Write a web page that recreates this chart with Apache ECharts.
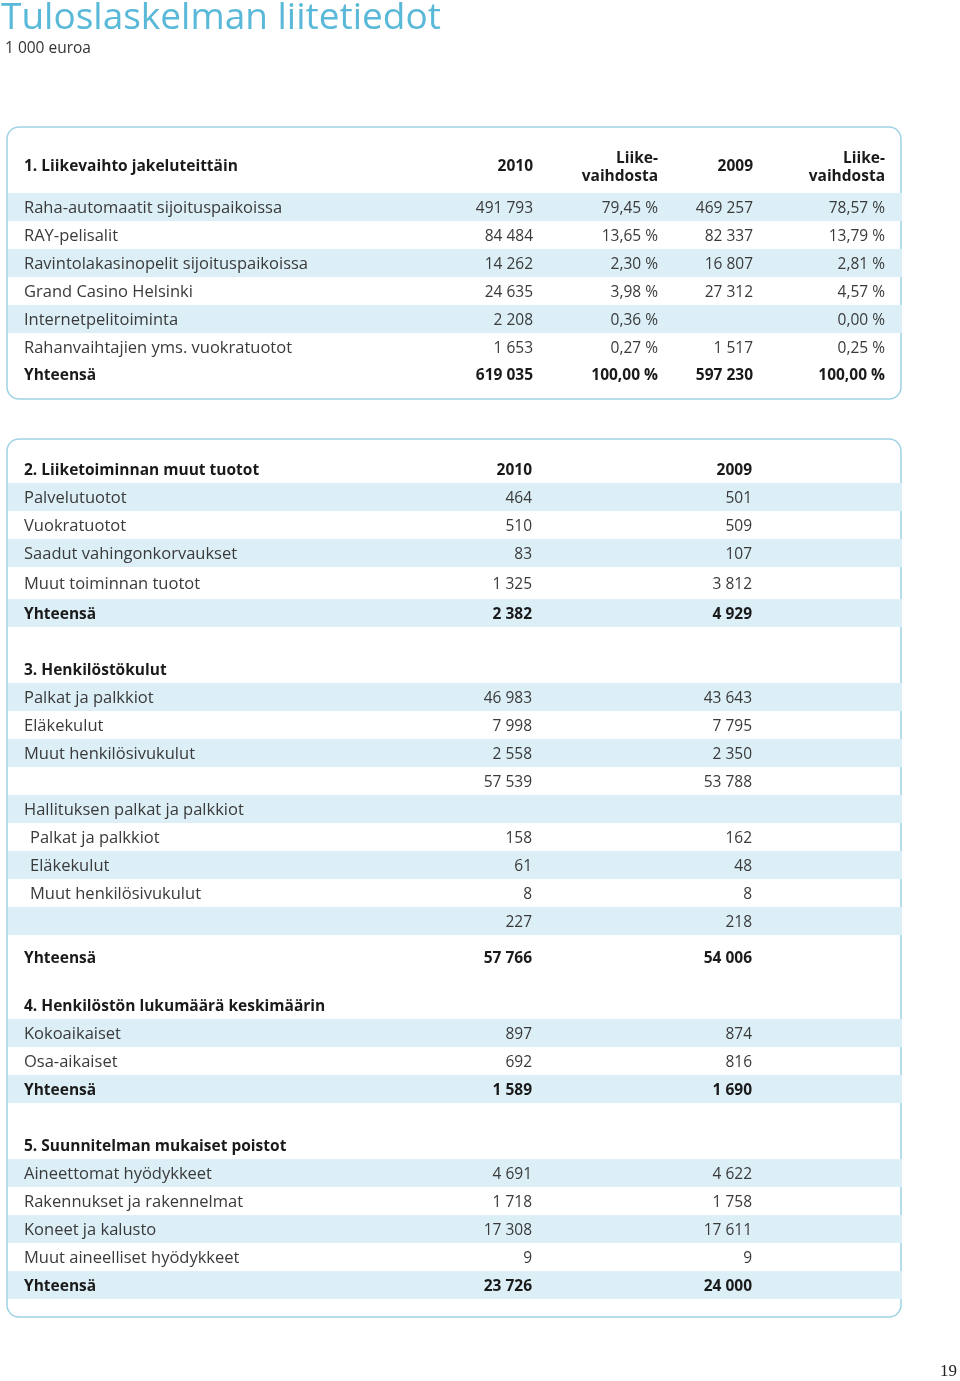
<!DOCTYPE html>
<html>
<head>
<meta charset="utf-8">
<script src="https://cdn.jsdelivr.net/npm/echarts@6/dist/echarts.min.js"></script>
<style>
  html, body { margin: 0; padding: 0; background: #fff; }
  #main { width: 960px; height: 1381px; }
</style>
</head>
<body>
<div id="main"></div>
<script>
// ---- data ----
var pageTitle = 'Tuloslaskelman liitetiedot';
var pageUnit = '1 000 euroa';
var pageNumber = '19';

var sec1Title = '1. Liikevaihto jakeluteittäin';
var sec1Labels = ['Raha-automaatit sijoituspaikoissa', 'RAY-pelisalit', 'Ravintolakasinopelit sijoituspaikoissa',
    'Grand Casino Helsinki', 'Internetpelitoiminta', 'Rahanvaihtajien yms. vuokratuotot', 'Yhteensä'];
var sec1Val2010 = [491793, 84484, 14262, 24635, 2208, 1653, 619035];
var sec1Pct2010 = [79.45, 13.65, 2.30, 3.98, 0.36, 0.27, 100.00];
var sec1Val2009 = [469257, 82337, 16807, 27312, null, 1517, 597230];
var sec1Pct2009 = [78.57, 13.79, 2.81, 4.57, 0.00, 0.25, 100.00];

var sec2Title = '2. Liiketoiminnan muut tuotot';
var sec2Labels = ['Palvelutuotot', 'Vuokratuotot', 'Saadut vahingonkorvaukset', 'Muut toiminnan tuotot', 'Yhteensä'];
var sec2Val2010 = [464, 510, 83, 1325, 2382];
var sec2Val2009 = [501, 509, 107, 3812, 4929];

var sec3Title = '3. Henkilöstökulut';
var sec3Labels = ['Palkat ja palkkiot', 'Eläkekulut', 'Muut henkilösivukulut', '', 'Hallituksen palkat ja palkkiot',
    'Palkat ja palkkiot', 'Eläkekulut', 'Muut henkilösivukulut', '', 'Yhteensä'];
var sec3Val2010 = [46983, 7998, 2558, 57539, null, 158, 61, 8, 227, 57766];
var sec3Val2009 = [43643, 7795, 2350, 53788, null, 162, 48, 8, 218, 54006];

var sec4Title = '4. Henkilöstön lukumäärä keskimäärin';
var sec4Labels = ['Kokoaikaiset', 'Osa-aikaiset', 'Yhteensä'];
var sec4Val2010 = [897, 692, 1589];
var sec4Val2009 = [874, 816, 1690];

var sec5Title = '5. Suunnitelman mukaiset poistot';
var sec5Labels = ['Aineettomat hyödykkeet', 'Rakennukset ja rakennelmat', 'Koneet ja kalusto', 'Muut aineelliset hyödykkeet', 'Yhteensä'];
var sec5Val2010 = [4691, 1718, 17308, 9, 23726];
var sec5Val2009 = [4622, 1758, 17611, 9, 24000];

var yearLabels = ['2010', '2009'];
var shareLabel = ['Liike-', 'vaihdosta'];

// ---- styling / layout ----
var FONT = '"Open Sans", "DejaVu Sans", sans-serif';
var BLUE = '#5ab9d8';
var BORDER = '#9ed3e3';
var BAND = '#dceff7';
var TXT = '#3a3a3a';
var TXT_B = '#1a1a1a';
var FS = 15.5;      // numbers, bold text
var FS_LAB = 16.5;  // regular row labels (reference face is wider)
var ROW_H = 28;
var DY = 2;         // text baseline nudge

function fmtInt(v) {
    if (v == null) return '';
    return String(v).replace(/\B(?=(\d{3})+(?!\d))/g, ' ');
}
function fmtPct(v) {
    if (v == null) return '';
    return v.toFixed(2).replace('.', ',') + ' %';
}

var els = [];

function text(x, y, str, opt) {
    opt = opt || {};
    els.push({
        type: 'text', x: x, y: y + (opt.noNudge ? 0 : DY) + (opt.dy || 0), z: 10,
        style: {
            text: str,
            fill: opt.color || (opt.bold ? TXT_B : TXT),
            fontFamily: opt.family || FONT,
            fontSize: opt.size || FS,
            fontWeight: opt.bold ? 'bold' : 'normal',
            align: opt.align || 'left',
            verticalAlign: opt.valign || 'middle'
        }
    });
}
function label(x, y, str, bold) {
    text(x, y, str, { bold: bold, size: bold ? FS : FS_LAB, dy: bold ? 0 : -1 });
}
function band(y) {
    els.push({
        type: 'rect', z: 2,
        shape: { x: 8, y: y - ROW_H / 2, width: 894, height: ROW_H },
        style: { fill: BAND }
    });
}
function box(y0, y1) {
    els.push({
        type: 'rect', z: 1,
        shape: { x: 7, y: y0, width: 894, height: y1 - y0, r: 12 },
        style: { fill: '#fff', stroke: BORDER, lineWidth: 1.5 }
    });
}

// title
text(1, 18, pageTitle, { size: 37, color: BLUE, noNudge: true });
text(5, 49, pageUnit, { size: 15.5, color: '#333', noNudge: true });
text(957, 1372, pageNumber, { size: 17, color: '#222', family: '"Liberation Serif", serif', align: 'right', noNudge: true });

// boxes
box(127, 399);
box(439, 1317);

// generic section with two value columns
function section(title, headerY, firstY, labels, v2010, v2009, opts) {
    opts = opts || {};
    text(24, headerY, title, { bold: true });
    if (opts.years) {
        text(532, headerY, yearLabels[0], { bold: true, align: 'right' });
        text(752, headerY, yearLabels[1], { bold: true, align: 'right' });
    }
    var y = firstY;
    labels.forEach(function (lab, i) {
        y += (opts.extra && opts.extra[i]) || 0;
        var isTotal = lab === 'Yhteensä';
        var banded = opts.bands ? opts.bands.indexOf(i) >= 0 : i % 2 === 0;
        if (banded) band(y);
        var indent = opts.indent && opts.indent.indexOf(i) >= 0 ? 6 : 0;
        label(24 + indent, y, lab, isTotal);
        text(532, y, fmtInt(v2010[i]), { bold: isTotal, align: 'right' });
        text(752, y, fmtInt(v2009[i]), { bold: isTotal, align: 'right' });
        y += ROW_H;
    });
}

// section 1 (four columns)
(function () {
    text(24, 165, sec1Title, { bold: true });
    text(533, 165, yearLabels[0], { bold: true, align: 'right' });
    text(753, 165, yearLabels[1], { bold: true, align: 'right' });
    text(658, 157, shareLabel[0], { bold: true, align: 'right' });
    text(658, 175, shareLabel[1], { bold: true, align: 'right' });
    text(885, 157, shareLabel[0], { bold: true, align: 'right' });
    text(885, 175, shareLabel[1], { bold: true, align: 'right' });
    sec1Labels.forEach(function (lab, i) {
        var y = 207 + i * ROW_H - (i === 6 ? 1 : 0);
        var isTotal = lab === 'Yhteensä';
        if (i % 2 === 0 && !isTotal) band(y);
        label(24, y, lab, isTotal);
        text(533, y, fmtInt(sec1Val2010[i]), { bold: isTotal, align: 'right' });
        text(658, y, fmtPct(sec1Pct2010[i]), { bold: isTotal, align: 'right' });
        text(753, y, fmtInt(sec1Val2009[i]), { bold: isTotal, align: 'right' });
        text(885, y, fmtPct(sec1Pct2009[i]), { bold: isTotal, align: 'right' });
    });
})();

section(sec2Title, 469, 497, sec2Labels, sec2Val2010, sec2Val2009, { years: true, extra: [0, 0, 0, 2, 2] });
section(sec3Title, 669, 697, sec3Labels, sec3Val2010, sec3Val2009, { extra: [0, 0, 0, 0, 0, 0, 0, 0, 0, 8], bands: [0, 2, 4, 6, 8], indent: [5, 6, 7] });
section(sec4Title, 1005, 1033, sec4Labels, sec4Val2010, sec4Val2009);
section(sec5Title, 1145, 1173, sec5Labels, sec5Val2010, sec5Val2009);

var chart = echarts.init(document.getElementById('main'));
var option = {
    backgroundColor: '#fff',
    animation: false,
    graphic: { elements: els }
};
chart.setOption(option);
</script>
</body>
</html>
